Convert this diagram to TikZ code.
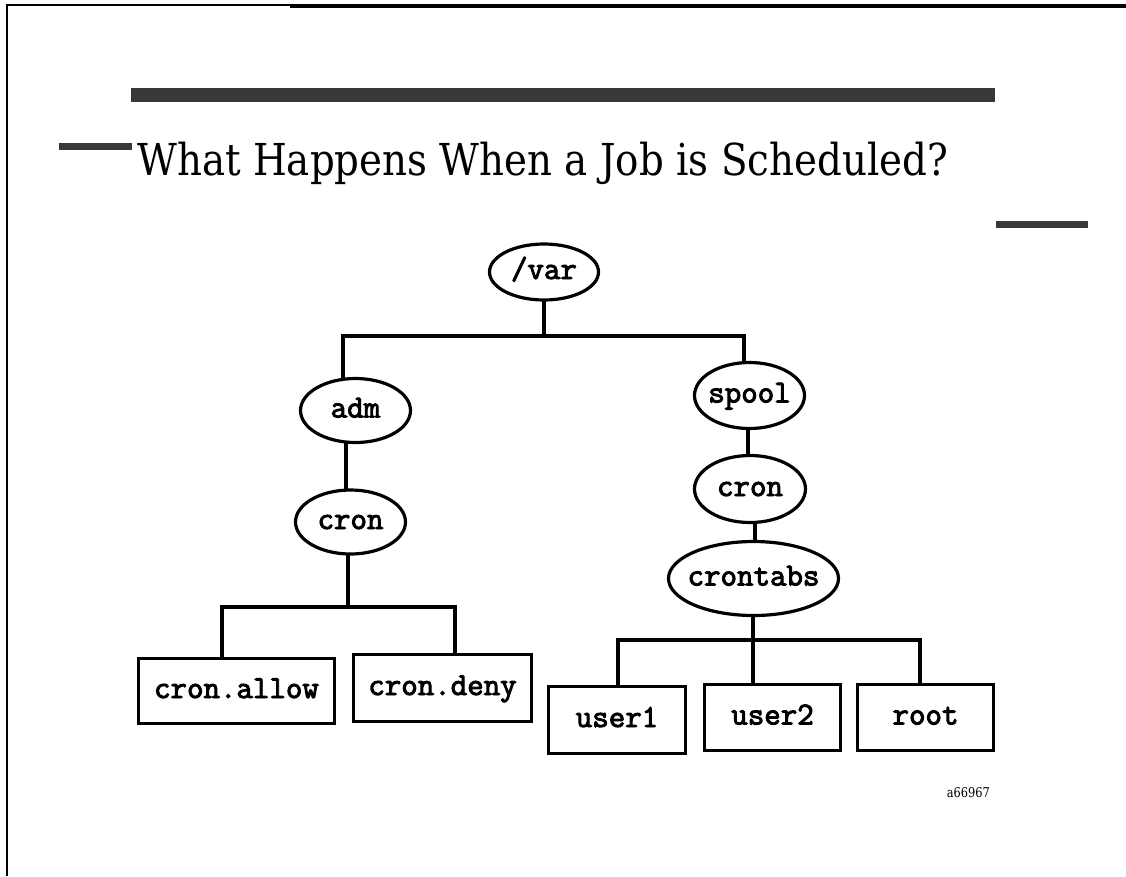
\documentclass[tikz,border=0pt]{standalone}
\usepackage{fontspec}
\usepackage{graphicx}
\newfontfamily\codefont{Latin Modern Mono}[FakeBold=3]
\newfontfamily\headfont{DejaVu Serif}
\usetikzlibrary{shapes.geometric,backgrounds}
\definecolor{bargray}{gray}{0.22}
\tikzset{
  codetext/.style={font=\codefont\fontsize{32}{34}\selectfont, text height=14pt, text depth=0pt},
  dirnode/.style={ellipse, draw, line width=3.2pt, fill=white, inner sep=0pt, codetext},
  filenode/.style={rectangle, draw, line width=3.2pt, fill=white, inner sep=0pt, codetext},
  conn/.style={line width=3.2pt},
  bar/.style={fill=bargray}
}
\newcommand\dirname[1]{\makebox[0pt]{#1}}
\begin{document}
\begin{tikzpicture}[x=1pt,y=-1pt]
\useasboundingbox (0,0) rectangle (1126,876);

% page frame
\draw[line width=2pt] (7,876) -- (7,5) -- (290,5);
\fill (290,4) rectangle (1126,8);

% decorative bars
\fill[bar] (131,88) rectangle (995,102);
\fill[bar] (59,143) rectangle (132,150);
\fill[bar] (996,221) rectangle (1088,228);

% heading
\node[anchor=base west, inner sep=0pt] (title) at (137,175)
  {\resizebox{811pt}{\height}{\headfont\fontsize{44}{48}\selectfont What Happens When a Job is Scheduled?}};

% directories
\node[dirnode, minimum width=109pt, minimum height=56pt] (var)      at (544,272)     {\dirname{/var}};
\node[dirnode, minimum width=110pt, minimum height=64pt] (adm)      at (355.5,410.5) {\dirname{adm}};
\node[dirnode, minimum width=110pt, minimum height=64pt] (cronA)    at (350.5,522)   {\dirname{cron}};
\node[dirnode, minimum width=110pt, minimum height=66pt] (spool)    at (749.5,395.5) {\dirname{spool}};
\node[dirnode, minimum width=111pt, minimum height=67pt] (cronB)    at (750,489)     {\dirname{cron}};
\node[dirnode, minimum width=170pt, minimum height=74pt] (crontabs) at (753.5,578.5) {\dirname{crontabs}};

% files
\node[filenode, minimum width=196pt, minimum height=65pt] (allow) at (236.5,691)   {cron.allow};
\node[filenode, minimum width=178pt, minimum height=67pt] (deny)  at (442.5,688)   {cron.deny};
\node[filenode, minimum width=137pt, minimum height=67pt] (user1) at (617,720)     {user1};
\node[filenode, minimum width=136pt, minimum height=66pt] (user2) at (772.5,717.5) {user2};
\node[filenode, minimum width=136pt, minimum height=66pt] (root)  at (925.5,717.5) {root};

% caption code
\node[anchor=base east, inner sep=0pt] (code) at (990,797)
  {\resizebox{43pt}{\height}{\headfont\fontsize{13.5}{15}\selectfont a66967}};

% tree branches, drawn under the nodes
\begin{pgfonlayer}{background}
  \coordinate (busA) at (0,336);
  \coordinate (busB) at (0,607);
  \coordinate (busC) at (0,640);

  \coordinate (admUp)   at ([xshift=-12.5pt]adm.center);
  \coordinate (spoolUp) at ([xshift=-5.5pt]spool.center);
  \draw[conn] (var.center) -- (var.center |- busA);
  \draw[conn] (admUp) -- (admUp |- busA) -- (spoolUp |- busA) -- (spoolUp);

  \coordinate (admDown) at ([xshift=-9.5pt]adm.center);
  \draw[conn] (admDown) -- (admDown |- cronA.center);

  \coordinate (cronAdown) at ([xshift=-2.5pt]cronA.center);
  \coordinate (allowUp)   at ([xshift=-14.5pt]allow.center);
  \coordinate (denyUp)    at ([xshift=12.5pt]deny.center);
  \draw[conn] (cronAdown) -- (cronAdown |- busB);
  \draw[conn] (allowUp) -- (allowUp |- busB) -- (denyUp |- busB) -- (denyUp);

  \coordinate (spoolDown) at ([xshift=-1.5pt]spool.center);
  \draw[conn] (spoolDown) -- (spoolDown |- cronB.center);
  \coordinate (cronBdown) at ([xshift=5pt]cronB.center);
  \draw[conn] (cronBdown) -- (cronBdown |- crontabs.center);

  \coordinate (tabsDown) at ([xshift=-0.5pt]crontabs.center);
  \coordinate (user1Up)  at ([xshift=1pt]user1.center);
  \coordinate (user2Up)  at ([xshift=-19.5pt]user2.center);
  \coordinate (rootUp)   at ([xshift=-5.5pt]root.center);
  \draw[conn] (tabsDown) -- (tabsDown |- busC);
  \draw[conn] (user1Up) -- (user1Up |- busC) -- (rootUp |- busC) -- (rootUp);
  \draw[conn] (user2Up) -- (user2Up |- busC);
\end{pgfonlayer}
\end{tikzpicture}
\end{document}
